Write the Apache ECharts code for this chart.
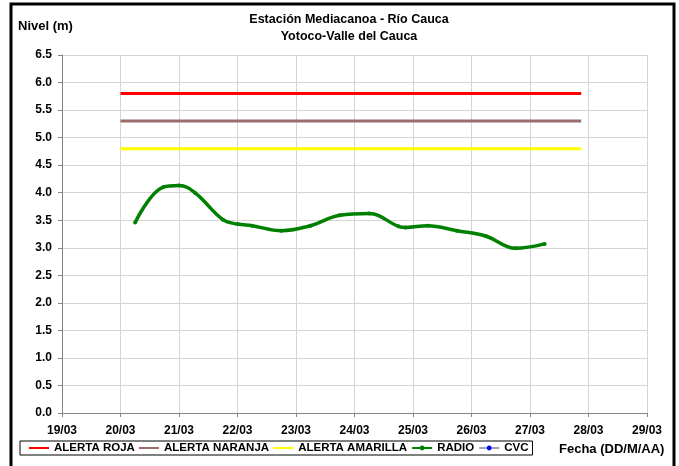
<!DOCTYPE html>
<html>
<head>
<meta charset="utf-8">
<script src="https://cdn.jsdelivr.net/npm/echarts@6/dist/echarts.min.js"></script>
<style>
  html, body { margin: 0; padding: 0; background: #fff; }
  #chart { width: 679px; height: 466px; }
</style>
</head>
<body>
<div id="chart"></div>
<script>
// fechas de las lecturas (RADIO) y niveles en metros
var radioTimes = [
  '2023-03-20T06:00Z', '2023-03-20T17:30Z', '2023-03-21T00:00Z', '2023-03-21T06:30Z',
  '2023-03-21T18:00Z', '2023-03-22T00:00Z', '2023-03-22T06:00Z', '2023-03-22T18:00Z',
  '2023-03-23T06:00Z', '2023-03-23T18:00Z', '2023-03-24T06:00Z', '2023-03-24T18:00Z',
  '2023-03-24T21:00Z', '2023-03-25T06:00Z', '2023-03-25T18:00Z', '2023-03-26T06:00Z',
  '2023-03-26T18:00Z', '2023-03-27T06:00Z'
];
var radioLevels = [3.46, 4.10, 4.13, 4.00, 3.51, 3.43, 3.40, 3.31, 3.40, 3.59, 3.62, 3.39,
  3.37, 3.40, 3.31, 3.21, 2.99, 3.07];

// umbrales de alerta
var alertTimes = ['2023-03-20T00:00Z', '2023-03-27T21:00Z'];
var alertaRoja = 5.8;
var alertaNaranja = 5.3;
var alertaAmarilla = 4.8;

var xStart = '2023-03-19T00:00Z';
var xEnd = '2023-03-29T00:00Z';
var DAY = 86400000;

function ts(s) { return Date.parse(s); }
function pairs(times, vals) {
  return times.map(function (t, i) { return [ts(t), vals[i]]; });
}
function flat(v) {
  return alertTimes.map(function (t) { return [ts(t), v]; });
}

var font = "'Liberation Sans', Arial, sans-serif";
// thin horizontal bar, same aspect as the legend item box
var barIcon = 'path://M0,0 M0,2 H20 V4 H0 Z M20,6';

var chart = echarts.init(document.getElementById('chart'));
chart.setOption({
  animation: false,
  backgroundColor: '#fff',
  title: {
    text: 'Estación Mediacanoa - Río Cauca\nYotoco-Valle del Cauca',
    left: 344,
    top: 6,
    textAlign: 'center',
    textStyle: { fontFamily: font, fontSize: 12.5, fontWeight: 'bold', color: '#000', lineHeight: 17 }
  },
  graphic: [
    { type: 'rect', shape: { x: 11, y: 4, width: 663, height: 480 },
      style: { fill: 'none', stroke: '#000', lineWidth: 3 }, silent: true },
    { type: 'text', left: 18, top: 20,
      style: { text: 'Nivel (m)', font: 'bold 13px ' + font, fill: '#000' } },
    { type: 'text', left: 559, top: 443,
      style: { text: 'Fecha (DD/M/AA)', font: 'bold 13px ' + font, fill: '#000' } }
  ],
  grid: { left: 62, right: 32, top: 55, bottom: 53 },
  legend: {
    left: 20, top: 441,
    orient: 'horizontal',
    itemWidth: 20, itemHeight: 6, itemGap: 4,
    padding: [1, 4, 1, 9],
    borderColor: '#000', borderWidth: 1, borderRadius: 0,
    textStyle: { fontFamily: font, fontSize: 11.5, fontWeight: 'bold', color: '#000' },
    data: [
      { name: 'ALERTA ROJA', icon: barIcon },
      { name: 'ALERTA NARANJA', icon: barIcon },
      { name: 'ALERTA AMARILLA', icon: barIcon },
      'RADIO',
      'CVC'
    ]
  },
  xAxis: {
    type: 'value',
    min: ts(xStart), max: ts(xEnd), interval: DAY,
    axisLine: { show: true, lineStyle: { color: '#868686', width: 1 } },
    axisTick: { show: true, length: 4, lineStyle: { color: '#868686' } },
    splitLine: { show: true, lineStyle: { color: '#d4d4d4', width: 1 } },
    axisLabel: {
      margin: 12,
      fontFamily: font, fontSize: 12, fontWeight: 'bold', color: '#000',
      formatter: function (v) {
        var d = new Date(v);
        var dd = ('0' + d.getUTCDate()).slice(-2);
        var mm = ('0' + (d.getUTCMonth() + 1)).slice(-2);
        return dd + '/' + mm;
      }
    }
  },
  yAxis: {
    type: 'value',
    min: 0, max: 6.5, interval: 0.5,
    axisLine: { show: true, lineStyle: { color: '#868686', width: 1 } },
    axisTick: { show: true, length: 4, lineStyle: { color: '#868686' } },
    splitLine: { show: true, lineStyle: { color: '#d4d4d4', width: 1 } },
    axisLabel: {
      margin: 10,
      fontFamily: font, fontSize: 12, fontWeight: 'bold', color: '#000',
      formatter: function (v) { return v.toFixed(1); }
    }
  },
  series: [
    { name: 'ALERTA ROJA', type: 'line', data: flat(alertaRoja), symbol: 'none',
      color: '#ff0000', lineStyle: { color: '#ff0000', width: 3 } },
    { name: 'ALERTA NARANJA', type: 'line', data: flat(alertaNaranja), symbol: 'none',
      color: '#9c6b6b', lineStyle: { color: '#9c6b6b', width: 3 } },
    { name: 'ALERTA AMARILLA', type: 'line', data: flat(alertaAmarilla), symbol: 'none',
      color: '#ffff00', lineStyle: { color: '#ffff00', width: 3 } },
    { name: 'RADIO', type: 'line', data: pairs(radioTimes, radioLevels), smooth: 0.4,
      symbol: 'circle', symbolSize: 4, color: '#008000',
      itemStyle: { color: '#008000' }, lineStyle: { color: '#008000', width: 3.5 } },
    { name: 'CVC', type: 'line', data: [], symbol: 'circle', symbolSize: 4, color: '#0000ff',
      itemStyle: { color: '#0000ff' }, lineStyle: { color: '#a0a0b8', width: 2 } }
  ]
});
</script>
</body>
</html>
